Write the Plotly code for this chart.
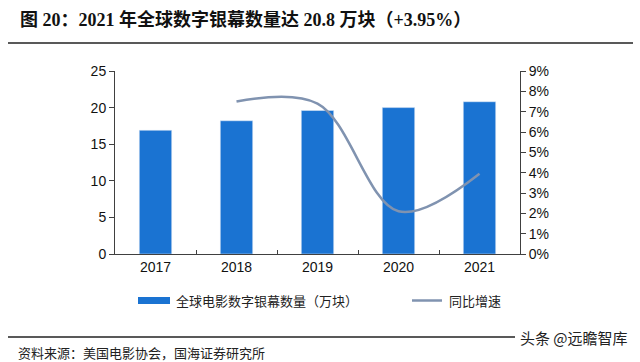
import plotly.graph_objects as go

years = ["2017", "2018", "2019", "2020", "2021"]
screens = [16.9, 18.2, 19.6, 20.0, 20.8]
growth_years = ["2018", "2019", "2020", "2021"]
growth = [0.075, 0.074, 0.021, 0.0395]

BAR = "#1a73d2"
LINE = "#8093b0"
AX = "#404040"

L, R, T, B = 115, 120, 71, 108
W, H = 640, 362
PW = W - L - R
PH = H - T - B


def px(x):
    return (x - L) / PW


def py(y):
    return (H - B - y) / PH


fig = go.Figure()
fig.add_trace(go.Bar(x=years, y=screens, marker_color=BAR, width=0.4,
                     name="全球电影数字银幕数量（万块）", showlegend=False))
fig.add_trace(go.Scatter(x=growth_years, y=growth, yaxis="y2", mode="lines",
                         line=dict(color=LINE, width=2.5, shape="spline", smoothing=1.0),
                         name="同比增速", showlegend=False))

tickfont = dict(family="Liberation Sans, Arial", size=14, color="#111")
fig.update_layout(
    width=W, height=H,
    margin=dict(l=L, r=R, t=T, b=B),
    paper_bgcolor="white", plot_bgcolor="white",
    xaxis=dict(type="category", showline=True, linecolor=AX, linewidth=1,
               ticks="inside", tickson="boundaries", ticklen=4, tickcolor=AX,
               tickfont=tickfont, showgrid=False),
    yaxis=dict(range=[0, 25], dtick=5, showline=True, linecolor=AX, linewidth=1,
               ticks="outside", ticklen=5, tickcolor=AX, tickfont=tickfont,
               showgrid=False, zeroline=False),
    yaxis2=dict(range=[0, 0.09], dtick=0.01, tickformat=".0%", overlaying="y",
                side="right", showline=True, linecolor=AX, linewidth=1,
                ticks="outside", ticklen=5, tickcolor=AX, tickfont=tickfont,
                showgrid=False, zeroline=False),
    bargap=0.6,
)

shapes = [
    dict(type="line", xref="paper", yref="paper", x0=px(8), x1=px(633), y0=py(43), y1=py(43),
         line=dict(color="#222", width=1.5)),
    dict(type="line", xref="paper", yref="paper", x0=px(8), x1=px(515), y0=py(337), y1=py(337),
         line=dict(color="#222", width=1.5)),
    dict(type="rect", xref="paper", yref="paper", x0=px(138), x1=px(170), y0=py(297), y1=py(304),
         fillcolor=BAR, line=dict(width=0)),
    dict(type="line", xref="paper", yref="paper", x0=px(412), x1=px(442), y0=py(300.5), y1=py(300.5),
         line=dict(color=LINE, width=2.5)),
]
fig.update_layout(shapes=shapes)

cjk = "Noto Sans CJK SC"
ann = [
    dict(text="<b>图 20：2021 年全球数字银幕数量达 20.8 万块（+3.95%）</b>",
         x=px(18), y=py(20), xanchor="left", yanchor="middle",
         font=dict(family="Liberation Serif, " + cjk, size=18, color="#111")),
    dict(text="全球电影数字银幕数量（万块）", x=px(174), y=py(300), xanchor="left", yanchor="middle",
         font=dict(family=cjk, size=13, color="#222")),
    dict(text="同比增速", x=px(447), y=py(300), xanchor="left", yanchor="middle",
         font=dict(family=cjk, size=13, color="#222")),
    dict(text="资料来源：美国电影协会，国海证券研究所", x=px(16), y=py(352), xanchor="left", yanchor="middle",
         font=dict(family=cjk, size=13, color="#222")),
    dict(text="头条 @远瞻智库", x=px(630), y=py(337), xanchor="right", yanchor="middle",
         font=dict(family=cjk, size=15, color="#222")),
]
for a in ann:
    a.update(xref="paper", yref="paper", showarrow=False)
fig.update_layout(annotations=ann)

fig.write_html("out.html", config={"displayModeBar": False},
               post_script="document.body.style.margin='0';document.body.style.overflow='hidden';")
